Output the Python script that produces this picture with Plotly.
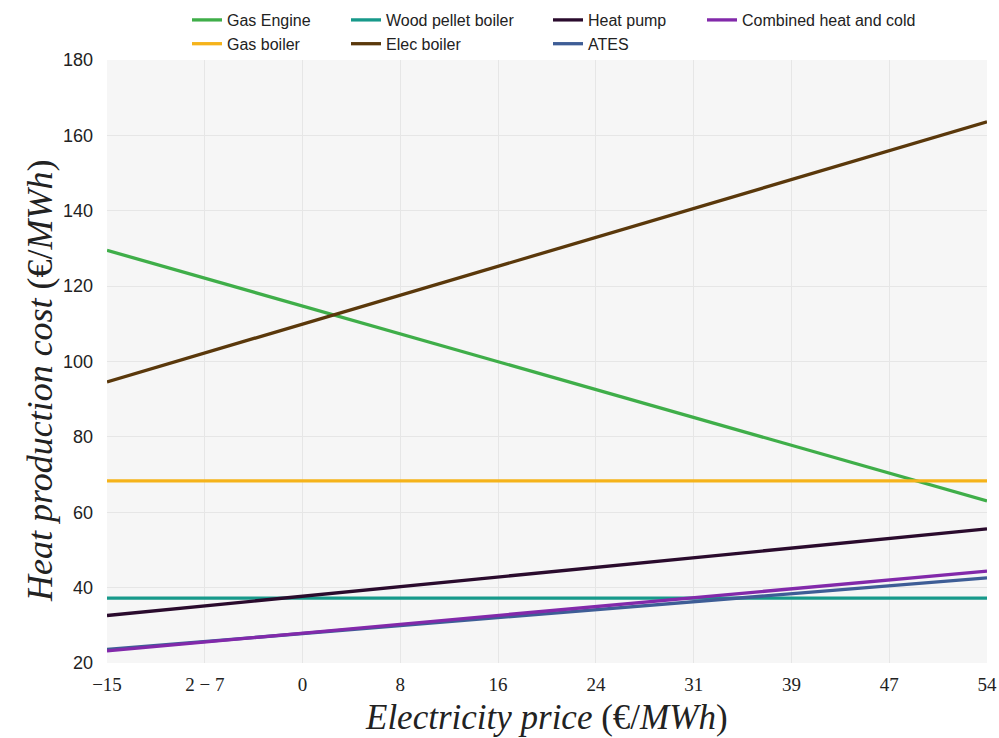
import plotly.graph_objects as go

# Data
price = [-15, 54]
series = {
    "Gas Engine": [129.5, 63.0],
    "Gas boiler": [68.3, 68.3],
    "Wood pellet boiler": [37.2, 37.2],
    "Elec boiler": [94.6, 163.6],
    "Heat pump": [32.6, 55.6],
    "ATES": [23.6, 42.6],
    "Combined heat and cold": [23.2, 44.4],
}
colors = {
    "Gas Engine": "#3fae49",
    "Gas boiler": "#f5b31a",
    "Wood pellet boiler": "#17998a",
    "Elec boiler": "#5a380b",
    "Heat pump": "#2a0b2d",
    "ATES": "#3e5d96",
    "Combined heat and cold": "#8229aa",
}
legend_of = {
    "Gas Engine": "legend", "Gas boiler": "legend",
    "Wood pellet boiler": "legend2", "Elec boiler": "legend2",
    "Heat pump": "legend3", "ATES": "legend3",
    "Combined heat and cold": "legend4",
}
x_tick_labels = ["−15", "2 − 7", "0", "8", "16", "24", "31", "39", "47", "54"]
y_ticks = [20, 40, 60, 80, 100, 120, 140, 160, 180]
x_title = "<i>Electricity price</i> (€/<i>MWh</i>)"
y_title = "<i>Heat production cost</i> (€/<i>MWh</i>)"

x_tick_vals = [price[0] + i * (price[1] - price[0]) / (len(x_tick_labels) - 1)
               for i in range(len(x_tick_labels))]

fig = go.Figure()
for name in ["Gas Engine", "Gas boiler", "Wood pellet boiler", "Elec boiler",
             "Heat pump", "ATES", "Combined heat and cold"]:
    fig.add_trace(go.Scatter(
        x=price, y=series[name], mode="lines", name=name,
        line=dict(color=colors[name], width=3.3),
        legend=legend_of[name],
    ))

W, H = 999, 738
leg_common = dict(
    orientation="v", yanchor="top", xanchor="left",
    xref="container", yref="container", y=1 - 3 / H,
    font=dict(family="Liberation Sans, Arial, sans-serif", size=16, color="#222"),
    bgcolor="rgba(0,0,0,0)", itemwidth=30, tracegroupgap=0,
)
fig.update_layout(
    legend=dict(leg_common, x=187 / W),
    legend2=dict(leg_common, x=346 / W),
    legend3=dict(leg_common, x=548 / W),
    legend4=dict(leg_common, x=702 / W),
)

serif = "Liberation Serif, Times New Roman, serif"
fig.update_layout(
    width=W, height=H,
    margin=dict(l=107, r=12, t=60, b=75, autoexpand=False),
    paper_bgcolor="white",
    plot_bgcolor="#f6f6f6",
    showlegend=True,
    xaxis=dict(
        range=[price[0], price[1]],
        tickvals=x_tick_vals, ticktext=x_tick_labels, tickangle=0,
        showgrid=True, gridcolor="#e6e6e6", gridwidth=1,
        zeroline=False, showline=False, ticks="",
        tickfont=dict(family=serif, size=19, color="#222"),
        ticklabelstandoff=8,
        automargin=False,
    ),
    yaxis=dict(
        range=[20, 180], tickvals=y_ticks,
        showgrid=True, gridcolor="#e6e6e6", gridwidth=1,
        zeroline=False, showline=False, ticks="",
        tickfont=dict(family="Liberation Sans, Arial, sans-serif", size=18, color="#222"),
        ticklabelstandoff=13,
        automargin=False,
    ),
    annotations=[
        dict(text=x_title, xref="paper", yref="paper", x=0.4989, y=-0.0912,
             xanchor="center", yanchor="middle", showarrow=False,
             font=dict(family=serif, size=35, color="#222")),
        dict(text=y_title, xref="paper", yref="paper", x=-0.0761, y=0.4677,
             xanchor="center", yanchor="middle", showarrow=False, textangle=-90,
             font=dict(family=serif, size=36, color="#222")),
    ],
)

fig.write_html("out.html", config={"displayModeBar": False},
               post_script="document.body.style.margin='0';")
